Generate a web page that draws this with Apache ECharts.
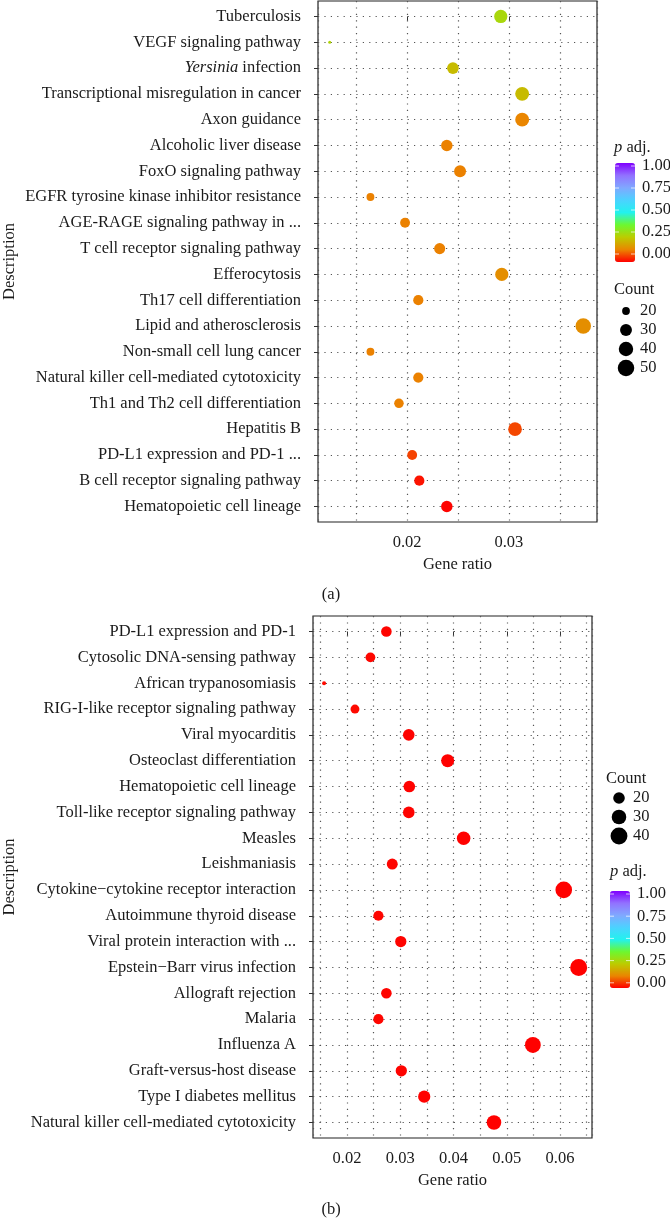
<!DOCTYPE html>
<html lang="en">
<head>
<meta charset="UTF-8">
<title>KEGG enrichment</title>
<script src="https://cdn.jsdelivr.net/npm/echarts@6/dist/echarts.min.js"></script>
<style>
    html, body { margin: 0; padding: 0; background: #fff; }
    #chart { width: 670px; height: 1219px; }
</style>
</head>
<body>
<div id="chart"></div>
<script>
// panel (a)
var termsA = ['Tuberculosis', 'VEGF signaling pathway', 'Yersinia infection',
    'Transcriptional misregulation in cancer', 'Axon guidance', 'Alcoholic liver disease',
    'FoxO signaling pathway', 'EGFR tyrosine kinase inhibitor resistance',
    'AGE-RAGE signaling pathway in ...', 'T cell receptor signaling pathway', 'Efferocytosis',
    'Th17 cell differentiation', 'Lipid and atherosclerosis', 'Non-small cell lung cancer',
    'Natural killer cell-mediated cytotoxicity', 'Th1 and Th2 cell differentiation',
    'Hepatitis B', 'PD-L1 expression and PD-1 ...', 'B cell receptor signaling pathway',
    'Hematopoietic cell lineage'];
var ratioA = [0.0292, 0.0124, 0.0245, 0.0313, 0.0313, 0.0239, 0.0252, 0.0164, 0.0198, 0.0232,
    0.0293, 0.0211, 0.0373, 0.0164, 0.0211, 0.0192, 0.0306, 0.0205, 0.0212, 0.0239];
var countA = [39, 17, 33, 42, 42, 32, 34, 22, 27, 31, 39, 28, 50, 22, 28, 26, 41, 27, 28, 32];
var padjA = [0.28, 0.27, 0.22, 0.22, 0.125, 0.12, 0.12, 0.12, 0.12, 0.12,
    0.14, 0.12, 0.14, 0.12, 0.12, 0.12, 0.066, 0.062, 0.018, 0.004];

// panel (b)
var termsB = ['PD-L1 expression and PD-1', 'Cytosolic DNA-sensing pathway', 'African trypanosomiasis',
    'RIG-I-like receptor signaling pathway', 'Viral myocarditis', 'Osteoclast differentiation',
    'Hematopoietic cell lineage', 'Toll-like receptor signaling pathway', 'Measles', 'Leishmaniasis',
    'Cytokine\u2212cytokine receptor interaction', 'Autoimmune thyroid disease',
    'Viral protein interaction with ...', 'Epstein\u2212Barr virus infection', 'Allograft rejection',
    'Malaria', 'Influenza A', 'Graft-versus-host disease', 'Type I diabetes mellitus',
    'Natural killer cell-mediated cytotoxicity'];
var ratioB = [0.0274, 0.0244, 0.0157, 0.0215, 0.0316, 0.0389, 0.0317, 0.0316, 0.0419, 0.0285,
    0.0607, 0.0259, 0.0301, 0.0635, 0.0274, 0.0259, 0.0549, 0.0302, 0.0345, 0.0476];
var countB = [20, 18, 11, 16, 23, 28, 23, 23, 30, 21, 44, 19, 22, 46, 20, 19, 40, 22, 25, 34];
var padjB = [0.004, 0.006, 0.01, 0.008, 0.003, 0.001, 0.002, 0.003, 0.001, 0.004,
    0.0005, 0.005, 0.003, 0.0005, 0.004, 0.005, 0.001, 0.003, 0.002, 0.001];

var ticksA = [0.02, 0.03];
var ticksB = [0.02, 0.03, 0.04, 0.05, 0.06];
var padjLabels = ['1.00', '0.75', '0.50', '0.25', '0.00'];
var countKeysA = [20, 30, 40, 50];
var countKeysB = [20, 30, 40];

var rainbow = ['#ff0000', '#ea8600', '#bccc00', '#6cf830', '#22f2ee', '#4cd2ff', '#80a8ff', '#9272ff', '#8000ff'];
var FONT = 'Liberation Serif';
var INK = '#1a1a1a';
var FS = 16.5;

function sizeA(c) { return 3 + 12.5 * Math.sqrt((c - 17) / 33); }
function sizeB(c) { return 4 + 13 * Math.sqrt((c - 11) / 35); }

function rowIdx(n) { var a = []; for (var i = 0; i < n; i++) a.push(i); return a; }

var dotted = { color: '#555', width: 1.2, type: [1.2, 5.2] };

function xAxisFor(grid, min, max, ticks) {
    return {
        type: 'value', gridIndex: grid, min: min, max: max,
        axisLine: { show: false },
        axisTick: { show: true, customValues: ticks, length: 4, lineStyle: { color: '#333' } },
        axisLabel: {
            customValues: ticks, margin: 12, fontFamily: FONT, fontSize: FS, color: INK,
            formatter: function (v) { return v.toFixed(2); }
        },
        splitLine: { show: false },
        name: 'Gene ratio', nameLocation: 'middle', nameGap: 34,
        nameTextStyle: { fontFamily: FONT, fontSize: FS, color: INK }
    };
}
// second x axis per panel only carries the dotted grid every 0.005
function gridAxisFor(grid, min, max, split) {
    return {
        type: 'value', gridIndex: grid, min: min, max: max, splitNumber: split,
        axisLine: { show: false }, axisTick: { show: false }, axisLabel: { show: false },
        splitLine: { show: true, lineStyle: dotted }
    };
}

function yAxisFor(grid, terms, gap) {
    return {
        type: 'value', gridIndex: grid, inverse: true, min: -0.6, max: terms.length - 0.4,
        splitNumber: terms.length,
        axisLine: { show: false },
        axisTick: { show: true, customValues: rowIdx(terms.length), length: 4, lineStyle: { color: '#333' } },
        axisLabel: {
            customValues: rowIdx(terms.length), margin: 17, fontFamily: FONT, fontSize: FS, color: INK,
            formatter: function (v) {
                var t = terms[Math.round(v)] || '';
                if (t.indexOf('Yersinia') === 0) return '{i|Yersinia}' + t.slice(8);
                return t;
            },
            rich: { i: { fontFamily: FONT, fontSize: FS, fontStyle: 'italic', color: INK } }
        },
        splitLine: { show: true, lineStyle: dotted },
        name: 'Description', nameLocation: 'middle', nameGap: gap, nameRotate: 90,
        nameTextStyle: { fontFamily: FONT, fontSize: FS, color: INK }
    };
}

function pts(terms, ratio, count, padj) {
    return terms.map(function (t, i) { return [ratio[i], i, count[i], padj[i]]; });
}

// legend pieces drawn as graphic
var graphic = [];
function txt(x, y, s, align, rich) {
    var el = {
        type: 'text', x: x, y: y,
        style: { text: s, font: FS + 'px "' + FONT + '"', fill: INK, textAlign: align || 'left', textVerticalAlign: 'middle' }
    };
    if (rich) el.style.rich = rich;
    graphic.push(el);
}
function colorbarLabels(x, y0, step, barX) {
    padjLabels.forEach(function (s, i) {
        var yy = y0 + i * step;
        txt(x, yy, s);
        graphic.push({ type: 'line', shape: { x1: barX, y1: yy, x2: barX + 4, y2: yy }, style: { stroke: 'rgba(255,255,255,0.7)', lineWidth: 1 }, z: 10 });
        graphic.push({ type: 'line', shape: { x1: barX + 16, y1: yy, x2: barX + 20, y2: yy }, style: { stroke: 'rgba(255,255,255,0.7)', lineWidth: 1 }, z: 10 });
    });
}
function countLegend(cx, y0, step, keys, sz, lx) {
    keys.forEach(function (k, i) {
        graphic.push({ type: 'circle', shape: { cx: cx, cy: y0 + i * step, r: sz(k) / 2 + 0.5 }, style: { fill: '#000' } });
        txt(lx, y0 + i * step, String(k));
    });
}
var padjRich = { i: { fontFamily: FONT, fontSize: FS, fontStyle: 'italic', fill: INK, color: INK }, n: { fontFamily: FONT, fontSize: FS, fill: INK, color: INK } };

// (a) legend
txt(614, 148, '{i|p}{n| adj.}', 'left', padjRich);
colorbarLabels(642, 166, 22, 615);
txt(614, 290, 'Count');
countLegend(626, 311, 19, countKeysA, sizeA, 640);
// (b) legend
txt(606, 779, 'Count');
countLegend(619, 798, 19, countKeysB, sizeB, 633);
txt(610, 872, '{i|p}{n| adj.}', 'left', padjRich);
colorbarLabels(637, 894, 22.2, 610);
// panel tags
txt(331, 595, '(a)', 'center');
txt(331, 1210, '(b)', 'center');

var chart = echarts.init(document.getElementById('chart'));
var option = {
    backgroundColor: '#fff',
    animation: false,
    grid: [
        { left: 312, top: 1, width: 285, height: 521, show: true, borderColor: '#222', borderWidth: 1.2, backgroundColor: 'transparent' },
        { left: 307, top: 616, width: 285, height: 522, show: true, borderColor: '#222', borderWidth: 1.2, backgroundColor: 'transparent' }
    ],
    xAxis: [
        xAxisFor(0, 0.01125, 0.03865, ticksA),
        xAxisFor(1, 0.01362, 0.0660, ticksB),
        gridAxisFor(0, 0.01125, 0.03865, 5),
        gridAxisFor(1, 0.01362, 0.0660, 10)
    ],
    yAxis: [
        yAxisFor(0, termsA, 300),
        yAxisFor(1, termsB, 295)
    ],
    visualMap: [
        { type: 'continuous', seriesIndex: 0, dimension: 3, min: 0, max: 1, calculable: false,
          inRange: { color: rainbow }, left: 615, top: 163, itemWidth: 20, itemHeight: 99, padding: 0, text: null },
        { type: 'continuous', seriesIndex: 1, dimension: 3, min: 0, max: 1, calculable: false,
          inRange: { color: rainbow }, left: 610, top: 891, itemWidth: 20, itemHeight: 97, padding: 0, text: null }
    ],
    series: [
        { type: 'scatter', xAxisIndex: 0, yAxisIndex: 0, data: pts(termsA, ratioA, countA, padjA),
          symbolSize: function (d) { return sizeA(d[2]); }, itemStyle: { opacity: 1 } },
        { type: 'scatter', xAxisIndex: 1, yAxisIndex: 1, data: pts(termsB, ratioB, countB, padjB),
          symbolSize: function (d) { return sizeB(d[2]); }, itemStyle: { opacity: 1 } }
    ],
    graphic: graphic
};
option && chart.setOption(option);
</script>
</body>
</html>
